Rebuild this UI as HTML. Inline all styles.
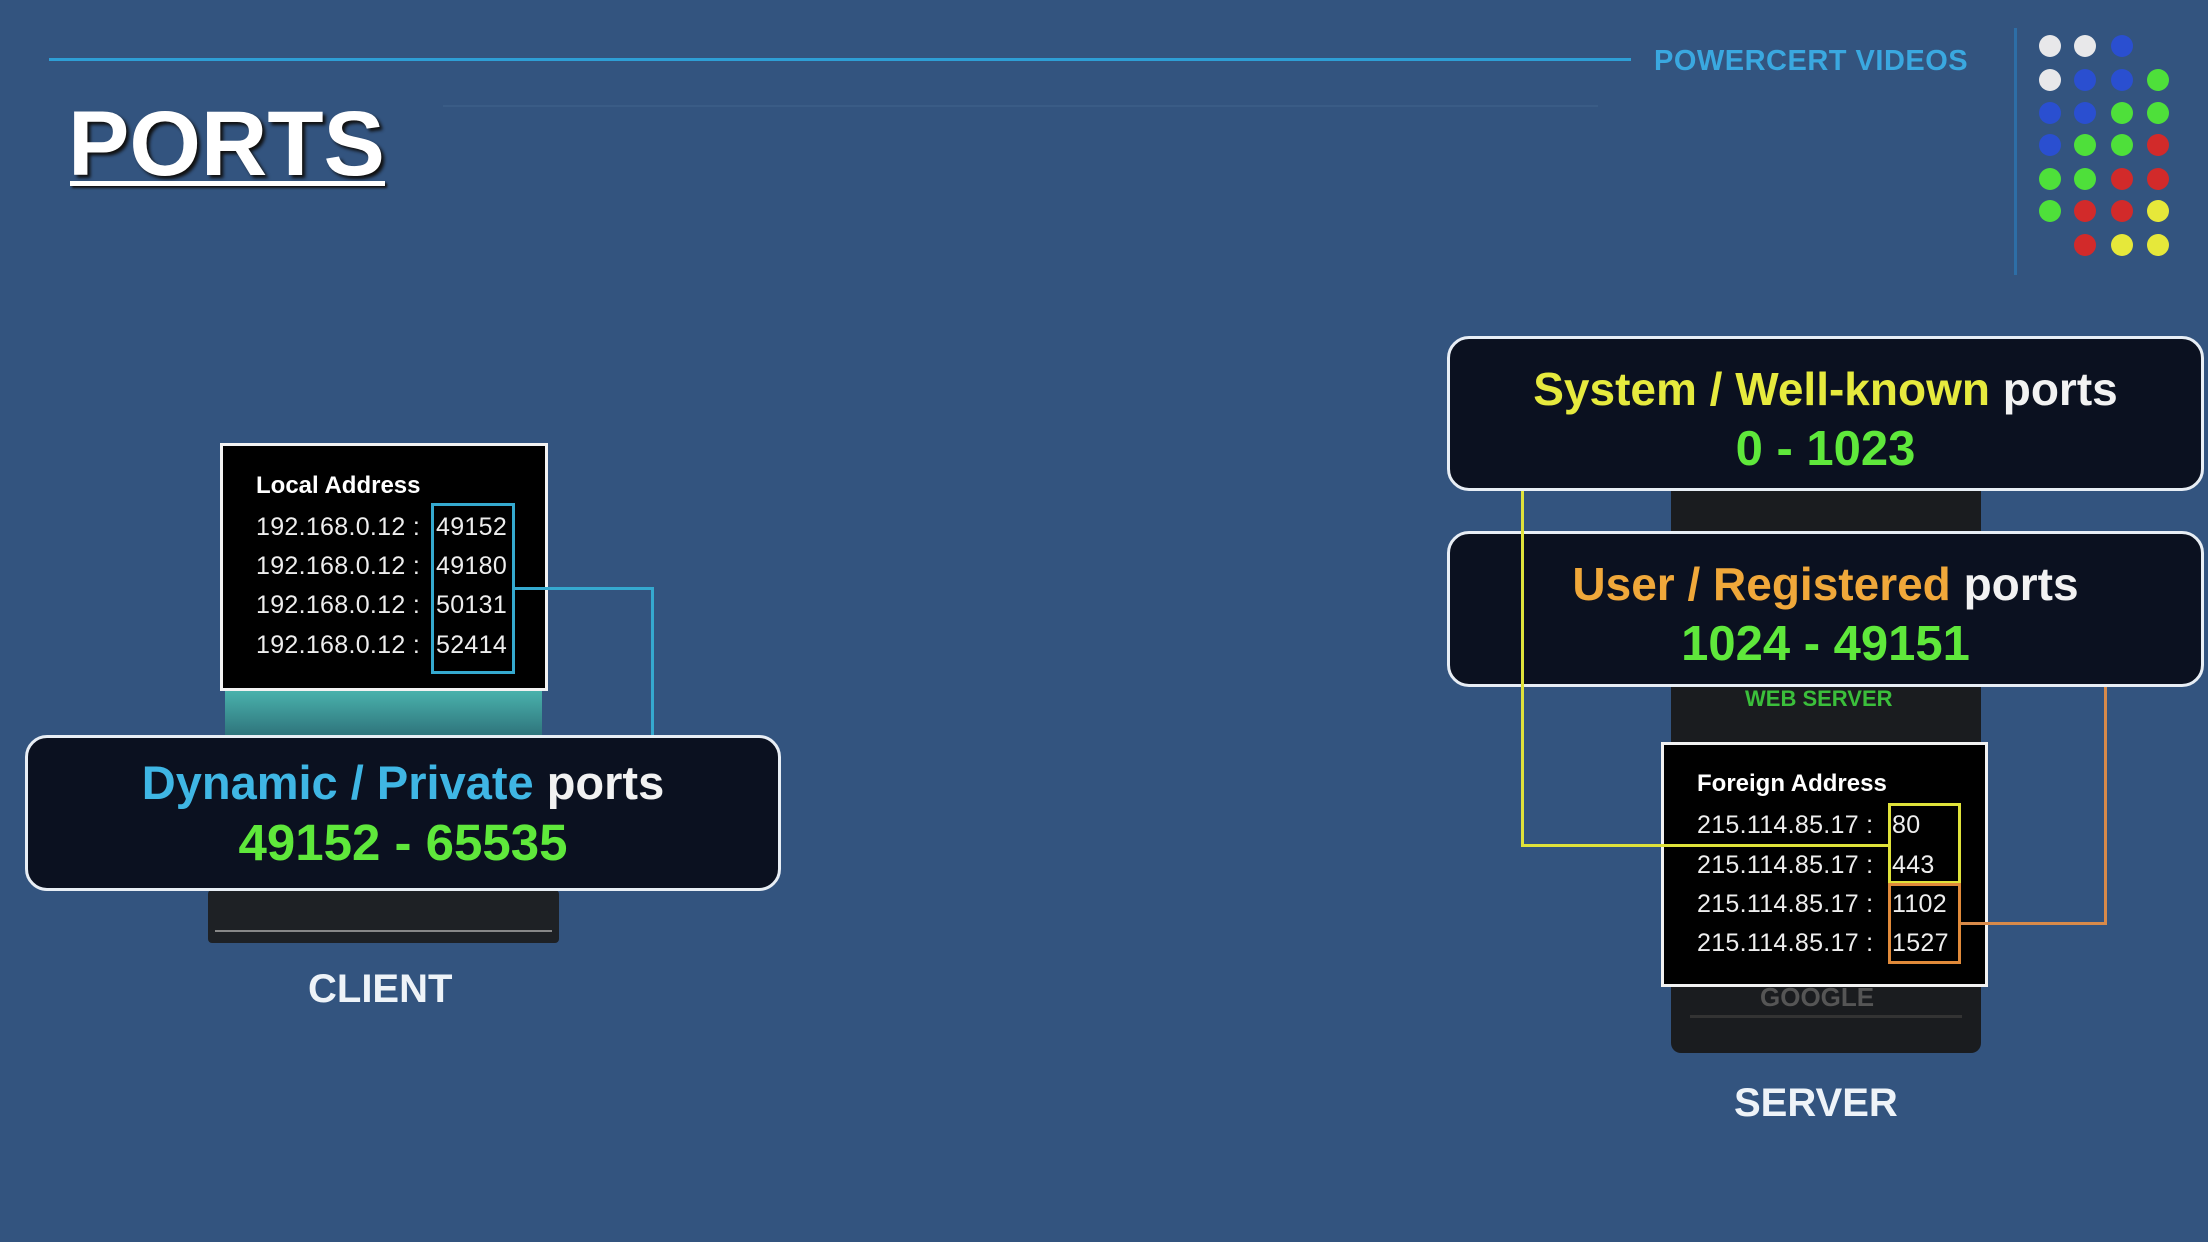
<!DOCTYPE html>
<html><head><meta charset="utf-8"><style>
*{margin:0;padding:0;box-sizing:border-box}
body{width:2208px;height:1242px;background:#33547f;position:relative;overflow:hidden;font-family:"Liberation Sans",sans-serif}
.a{position:absolute}
.t{position:absolute;white-space:nowrap}
.tbl{background:#000;border:3px solid #f2f2f2}
.row{font-size:25px;color:#eee;letter-spacing:0.3px}
.pill{background:#0b1120;border:3px solid #e8eef5;border-radius:22px}
.big{font-weight:bold;text-align:center;width:100%;position:absolute;left:0}
.dot{position:absolute;width:22px;height:22px;border-radius:50%}
</style></head><body>
<div class="a" style="left:49px;top:58px;width:1582px;height:3px;background:#2e9fd6"></div>
<div class="a" style="left:443px;top:105px;width:1155px;height:2px;background:#3a5c86"></div>
<div class="t" style="left:1654px;top:45px;font-size:29px;font-weight:bold;color:#3aa8e0;letter-spacing:0.5px">POWERCERT VIDEOS</div>
<div class="a" style="left:2014px;top:28px;width:3px;height:247px;background:#2d6ea6"></div>
<div class="t" style="left:68px;top:92px;font-size:92px;font-weight:bold;color:#fff;text-shadow:3px 3px 3px #111">PORTS</div>
<div class="a" style="left:70px;top:181px;width:315px;height:5px;background:#fff;box-shadow:2px 2px 2px #111"></div>

<div id="dots"></div>

<!-- client -->
<div class="a" style="left:225px;top:690px;width:317px;height:50px;background:linear-gradient(#4ab3ad,#2c6e77)"></div>
<div class="a" style="left:208px;top:890px;width:351px;height:53px;background:#1e2125;border-radius:4px"></div>
<div class="a" style="left:215px;top:930px;width:337px;height:2px;background:#888"></div>
<div class="a tbl" style="left:220px;top:443px;width:328px;height:248px"></div>
<div class="t" style="left:256px;top:472px;font-size:24px;font-weight:bold;color:#fff">Local Address</div>
<div class="t row" style="left:256px;top:513px">192.168.0.12 :</div><div class="t row" style="left:436px;top:513px">49152</div>
<div class="t row" style="left:256px;top:552px">192.168.0.12 :</div><div class="t row" style="left:436px;top:552px">49180</div>
<div class="t row" style="left:256px;top:591px">192.168.0.12 :</div><div class="t row" style="left:436px;top:591px">50131</div>
<div class="t row" style="left:256px;top:631px">192.168.0.12 :</div><div class="t row" style="left:436px;top:631px">52414</div>
<div class="a" style="left:431px;top:503px;width:84px;height:171px;border:3px solid #35a9cf"></div>
<div class="a" style="left:515px;top:587px;width:139px;height:148px;border-top:3px solid #35a9cf;border-right:3px solid #35a9cf"></div>
<div class="a pill" style="left:25px;top:735px;width:756px;height:156px">
<div class="big" style="top:17px;font-size:47px;color:#3fb6e4">Dynamic / Private <span style="color:#f2f2f2">ports</span></div>
<div class="big" style="top:75px;font-size:51px;color:#5fe83b">49152 - 65535</div>
</div>
<div class="t" style="left:308px;top:967px;font-size:40px;font-weight:bold;color:#eef3f8">CLIENT</div>

<!-- server -->
<div class="a" style="left:1671px;top:408px;width:310px;height:645px;background:#1a1c1f;border-radius:10px"></div>
<div class="t" style="left:1745px;top:686px;font-size:22px;font-weight:bold;color:#3bbf3b">WEB SERVER</div>
<div class="t" style="left:1760px;top:982px;font-size:26px;font-weight:bold;color:#555">GOOGLE</div>
<div class="a" style="left:1690px;top:1015px;width:272px;height:3px;background:#333"></div>
<div class="a pill" style="left:1447px;top:336px;width:757px;height:155px">
<div class="big" style="top:23px;font-size:46px;color:#e6ea3e">System / Well-known <span style="color:#f2f2f2">ports</span></div>
<div class="big" style="top:82px;font-size:49px;color:#5fe83b">0 - 1023</div>
</div>
<div class="a pill" style="left:1447px;top:531px;width:757px;height:156px">
<div class="big" style="top:23px;font-size:46px;color:#f0a83a">User / Registered <span style="color:#f2f2f2">ports</span></div>
<div class="big" style="top:82px;font-size:49px;color:#5fe83b">1024 - 49151</div>
</div>
<div class="a tbl" style="left:1661px;top:742px;width:327px;height:245px"></div>
<div class="t" style="left:1697px;top:770px;font-size:24px;font-weight:bold;color:#fff">Foreign Address</div>
<div class="t row" style="left:1697px;top:811px">215.114.85.17 :</div><div class="t row" style="left:1892px;top:811px">80</div>
<div class="t row" style="left:1697px;top:851px">215.114.85.17 :</div><div class="t row" style="left:1892px;top:851px">443</div>
<div class="t row" style="left:1697px;top:890px">215.114.85.17 :</div><div class="t row" style="left:1892px;top:890px">1102</div>
<div class="t row" style="left:1697px;top:929px">215.114.85.17 :</div><div class="t row" style="left:1892px;top:929px">1527</div>
<div class="a" style="left:1521px;top:491px;width:369px;height:356px;border-left:3px solid #dfe23a;border-bottom:3px solid #dfe23a"></div>
<div class="a" style="left:1888px;top:803px;width:73px;height:81px;border:3px solid #dfe23a"></div>
<div class="a" style="left:1888px;top:883px;width:73px;height:81px;border:3px solid #e08a3a"></div>
<div class="a" style="left:1961px;top:687px;width:146px;height:238px;border-right:3px solid #d88a4a;border-bottom:3px solid #d88a4a"></div>
<div class="t" style="left:1734px;top:1081px;font-size:40px;font-weight:bold;color:#eef3f8">SERVER</div>

<script>
var W='#e8e8ea',B='#2a4fd0',G='#4ee03a',R='#d22a2a',Y='#e6e83a';
var g=[[W,W,B,0],[W,B,B,G],[B,B,G,G],[B,G,G,R],[G,G,R,R],[G,R,R,Y],[0,R,Y,Y]];
var xs=[2050,2085,2122,2158],ys=[46,80,113,145,179,211,245],h='';
for(var r=0;r<7;r++)for(var c=0;c<4;c++)if(g[r][c])h+='<div class="dot" style="left:'+(xs[c]-11)+'px;top:'+(ys[r]-11)+'px;background:'+g[r][c]+'"></div>';
document.getElementById('dots').innerHTML=h;
</script>
</body></html>
